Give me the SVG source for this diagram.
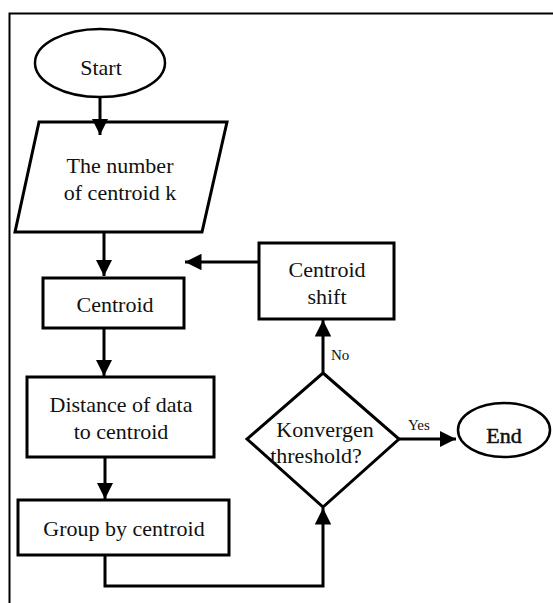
<svg xmlns="http://www.w3.org/2000/svg" width="553" height="603" viewBox="0 0 553 603">
<defs>
<style>
.n{fill:#fff;stroke:#000;stroke-width:3}
.t{font-family:"Liberation Serif","Times New Roman",serif;font-size:22px;fill:#111;text-anchor:middle}
.s{font-family:"Liberation Serif","Times New Roman",serif;font-size:15px;fill:#111}
.c{fill:none;stroke:#000;stroke-width:3}
</style>
<marker id="ah" viewBox="0 0 10 10" refX="10" refY="5" markerWidth="5.5" markerHeight="5.5" markerUnits="strokeWidth" orient="auto">
<path d="M0,0 L10,5 L0,10 z" fill="#000"/>
</marker>
</defs>
<rect width="553" height="603" fill="#fff"/>
<path d="M9.5,603 V13.5 H553" fill="none" stroke="#000" stroke-width="2"/>
<g id="start">
<ellipse cx="100" cy="63" rx="65" ry="34" fill="#fff" stroke="#000" stroke-width="2.5"/>
<text class="t" x="101" y="75">Start</text>
</g>
<g id="input">
<path class="n" d="M39,122 H227 L202,232 H15 Z"/>
<text class="t" x="120" y="173">The number</text>
<text class="t" x="120" y="200">of centroid k</text>
</g>
<g id="centroid">
<rect class="n" x="43" y="278" width="141" height="50"/>
<text class="t" x="115" y="312">Centroid</text>
</g>
<g id="distance">
<rect class="n" x="27" y="377" width="187" height="80"/>
<text class="t" x="121" y="412">Distance of data</text>
<text class="t" x="121" y="439">to centroid</text>
</g>
<g id="group">
<rect class="n" x="18" y="500" width="211" height="55"/>
<text class="t" x="124" y="536">Group by centroid</text>
</g>
<g id="decision">
<path class="n" d="M323,373 L399,439 L323,507 L247,439 Z"/>
<text class="t" x="325" y="437">Konvergen</text>
<text class="t" x="316" y="463">threshold?</text>
</g>
<g id="shift">
<rect class="n" x="259" y="243" width="135" height="76"/>
<text class="t" x="327" y="277">Centroid</text>
<text class="t" x="327" y="304">shift</text>
</g>
<g id="end">
<ellipse cx="504" cy="430" rx="46" ry="27" fill="#fff" stroke="#000" stroke-width="2.5"/>
<text class="t" x="504" y="443" style="stroke:#111;stroke-width:0.5">End</text>
</g>
<g id="connectors">
<line class="c" x1="100" y1="97" x2="100" y2="135" marker-end="url(#ah)"/>
<line class="c" x1="104" y1="233" x2="104" y2="276" marker-end="url(#ah)"/>
<line class="c" x1="104" y1="329" x2="104" y2="376" marker-end="url(#ah)"/>
<line class="c" x1="105" y1="458" x2="105" y2="499" marker-end="url(#ah)"/>
<path class="c" d="M105,556 V586 H323 V508" marker-end="url(#ah)"/>
<line class="c" x1="323" y1="372" x2="323" y2="320" marker-end="url(#ah)"/>
<line class="c" x1="259" y1="262" x2="185" y2="262" marker-end="url(#ah)"/>
<line class="c" x1="399" y1="439" x2="456" y2="439" marker-end="url(#ah)"/>
<text class="s" x="331" y="360">No</text>
<text class="s" x="408" y="430">Yes</text>
</g>
</svg>
